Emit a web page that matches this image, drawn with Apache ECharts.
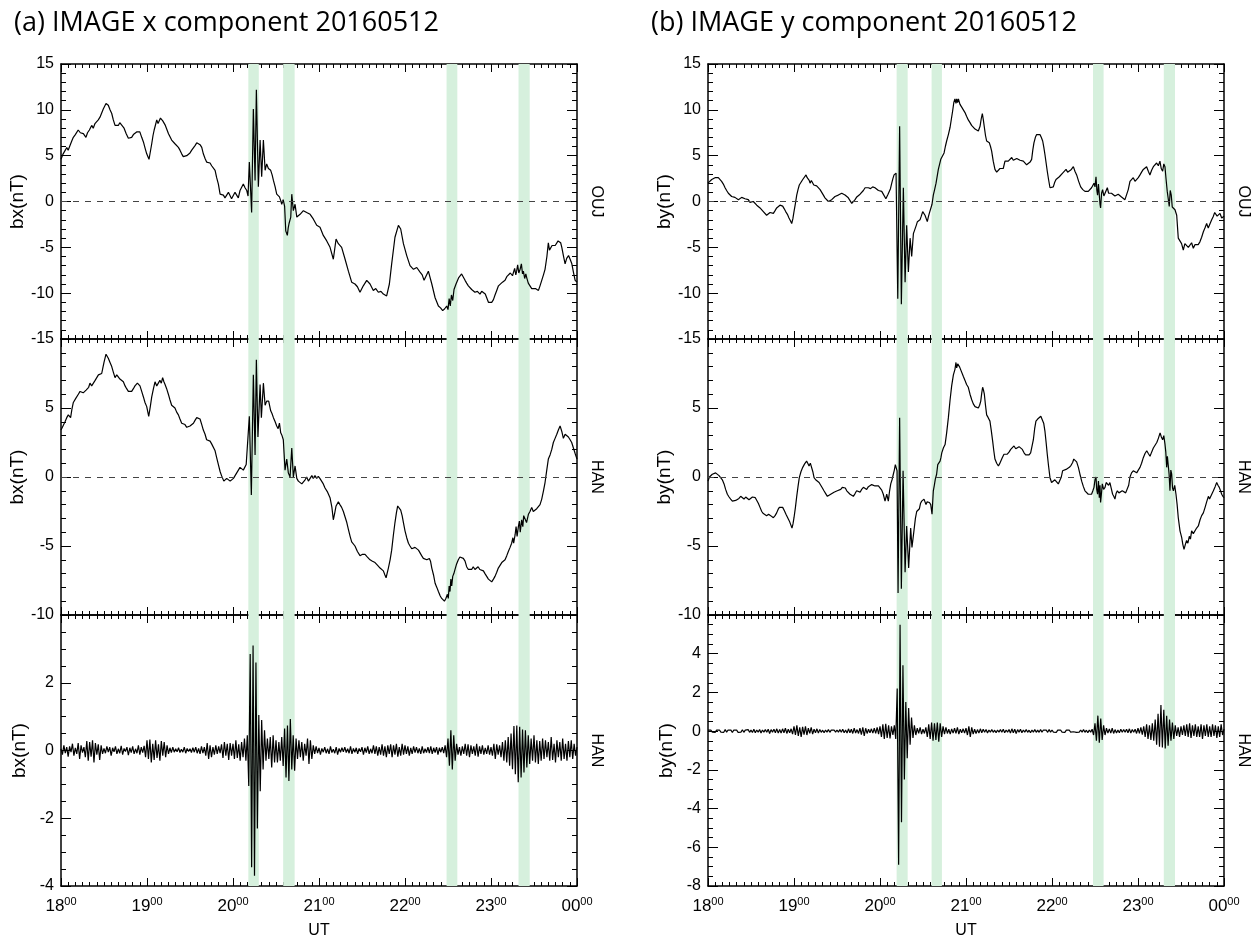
<!DOCTYPE html>
<html>
<head>
<meta charset="utf-8">
<script src="https://cdn.jsdelivr.net/npm/echarts@6/dist/echarts.min.js"></script>
<style>
  html, body { margin: 0; padding: 0; background: #fff; }
  #chart { width: 1255px; height: 940px; }
</style>
</head>
<body>
<div id="chart"></div>
<script>
// Minutes after 18:00 UT, magnetic field in nT.

// OUJ x component
const bxOUJ = [[0,4.6],[1.5,5.2],[3,5.6],[4,5.9],[5,5.6],[6.3,5.8],[7.5,6.6],[8.6,7.0],[10,7.3],[12,7.8],[13.5,7.5],[15.6,7.4],[17.4,7.0],[18.5,7.5],[19.8,7.8],[21.4,8.3],[22.5,8.0],[23.7,8.5],[25,8.3],[26,8.9],[27.2,9.2],[28.3,9.0],[29.5,10.1],[31.4,10.7],[33,10.5],[34.2,10.0],[35.4,9.6],[36.5,8.9],[37.7,8.3],[39,8.5],[40,8.3],[41,8.6],[42.3,8.5],[44,8.0],[45.5,7.4],[47,6.9],[48,7.1],[49.3,7.0],[50.5,7.3],[51.6,7.2],[53,7.6],[54,7.8],[55,7.6],[56.3,7.0],[57.5,6.5],[58.7,5.8],[59.8,5.2],[61.4,4.6],[62.3,5.4],[63.3,6.3],[64.2,7.2],[65,7.8],[66,8.4],[66.8,8.9],[67.7,8.5],[68.6,8.7],[69.4,9.1],[70.2,9.2],[71,8.8],[71.9,8.7],[72.8,8.3],[73.7,8.1],[75,7.4],[76,7.2],[77.2,6.7],[78.3,6.5],[79.5,6.3],[80.7,6.2],[81.9,5.9],[83,5.6],[84.2,5.2],[85.3,4.9],[86.5,4.7],[87.7,5.0],[88.9,4.9],[90,5.3],[91.2,5.6],[92.4,5.8],[93.5,6.1],[94.7,6.4],[95.8,6.5],[97,6.2],[98.2,5.9],[99.3,5.2],[100.5,4.7],[101.6,4.3],[102.8,4.1],[104,4.2],[105.1,3.9],[106.3,3.8],[107.5,3.4],[108.6,2.6],[109.8,1.9],[111,0.8],[112,0.9],[113.3,0.7],[114.4,0.4],[115.6,0.5],[116.8,1.0],[117.9,0.8],[119,0.3],[120.3,0.5],[121.4,1.0],[122.6,0.8],[123.7,0.4],[124.9,1.2],[126,1.0],[127.2,1.9],[128.4,1.5],[129.6,1.2],[130.5,0.6],[131.4,4.3],[133,-1.2],[134.2,10.1],[135.4,2.3],[136.3,12.2],[137.7,1.6],[138.9,6.7],[140,2.7],[141.2,6.7],[142.4,3.4],[143.5,4.1],[144.7,3.6],[146.3,3.4],[147.3,2.9],[148.2,2.3],[149.4,1.6],[150.5,0.8],[151.5,1.0],[152.4,0.5],[153.3,0.1],[154,-0.3],[155,0.2],[156,-0.5],[156.8,-3.2],[157.9,-3.7],[158.5,-2.9],[159.1,-2.4],[160.3,-1.7],[161,0.8],[162.1,-1.0],[163.3,-0.3],[164.5,-1.7],[165.5,-1.5],[166.8,-1.4],[168,-1.6],[169.1,-1.0],[170.3,-1.2],[171.4,-1.2],[172.6,-1.0],[173.8,-1.4],[175,-1.6],[176,-1.9],[177.2,-2.0],[178.4,-2.6],[180.7,-2.8],[183,-3.7],[185.4,-4.3],[187.7,-5.0],[190,-6.3],[191.9,-4.1],[193.5,-4.6],[195.8,-5.0],[198.2,-6.3],[200.5,-7.6],[202.8,-8.8],[205.1,-9.0],[206.8,-9.3],[208.6,-9.9],[210.9,-9.2],[213.3,-8.6],[215.6,-9.0],[217.9,-9.7],[219.6,-9.5],[221.4,-9.9],[223.2,-9.8],[224.9,-10.1],[227.2,-10.3],[229.1,-9.0],[230.7,-6.8],[233,-3.9],[235.4,-2.6],[237,-3.0],[238.9,-4.6],[241.2,-5.9],[243.5,-7.0],[245.9,-7.4],[248.2,-7.2],[250.5,-7.7],[252,-8.0],[253.3,-8.6],[254.8,-8.1],[256.3,-7.6],[258.7,-9.0],[261,-10.5],[263.3,-11.4],[264.8,-11.6],[266.3,-11.9],[267.7,-11.7],[269.1,-11.4],[270,-11.8],[270.8,-10.6],[271.6,-11.4],[272.4,-10.2],[273.3,-10.8],[274.2,-9.6],[275.6,-9.0],[277.5,-8.3],[279.5,-7.9],[281.9,-8.6],[283,-8.9],[284.2,-9.2],[285.4,-9.4],[286.5,-9.6],[287.6,-9.5],[288.8,-9.9],[290.5,-9.8],[292.3,-10.1],[293.5,-9.8],[294.7,-9.7],[296,-10.1],[297,-10.5],[298.2,-11.0],[299.3,-11.2],[300.5,-11.0],[301.7,-10.7],[302.8,-10.2],[304,-9.7],[305.2,-9.2],[306.3,-9.0],[308,-8.8],[309.8,-8.6],[311,-8.2],[312.1,-8.1],[313.5,-7.8],[315,-8.1],[315.6,-7.9],[316.5,-7.3],[317.3,-8.0],[317.9,-7.6],[318.6,-6.9],[319.4,-7.8],[320.3,-7.4],[321.2,-6.8],[322,-7.9],[322.6,-7.6],[323.5,-8.4],[324.3,-7.9],[324.9,-8.3],[326,-8.9],[327.2,-9.2],[328.4,-9.5],[329.6,-9.6],[331,-9.5],[333.1,-9.7],[334.2,-9.2],[335.4,-8.6],[336.6,-8.0],[337.7,-7.4],[339,-6.0],[340,-4.5],[340.8,-5.3],[341.7,-5.2],[342.6,-4.8],[343.6,-5.0],[344.8,-4.8],[345.9,-4.6],[346.8,-4.3],[347.8,-4.1],[348.6,-4.5],[349.4,-5.0],[350.5,-5.9],[351.7,-6.8],[352.8,-6.2],[354.1,-5.9],[355.2,-6.3],[356.4,-6.8],[357.5,-7.7],[358.7,-8.6],[360,-8.8]];

// HAN x component
const bxHAN = [[0,3.4],[1.4,3.7],[2.8,4.0],[4,4.3],[5.1,4.5],[6.7,4.3],[7.6,4.9],[8.6,5.4],[10.3,5.7],[12.1,6.0],[13.3,6.2],[14.4,6.3],[15.5,6.1],[16.7,6.0],[17.5,6.3],[18.4,6.2],[19.3,6.5],[20.2,6.8],[21.4,6.6],[22.6,6.8],[23.8,7.0],[24.9,7.1],[26.1,7.4],[27.2,7.3],[28.4,7.5],[29.2,7.9],[30,8.3],[31.4,8.9],[33,8.6],[34.2,8.3],[35.4,8.0],[36.5,7.6],[37.7,7.2],[38.9,7.4],[40,7.3],[41.1,7.1],[42.3,7.2],[43.5,6.9],[44.7,6.6],[45.8,6.4],[47,6.2],[48.2,6.3],[49.3,6.2],[50.5,6.4],[51.6,6.6],[52.4,6.5],[53.3,6.8],[54.2,6.7],[55.1,6.6],[56.3,6.2],[57.5,5.8],[58.6,5.4],[59.8,5.1],[61.2,4.4],[62.3,5.1],[63.3,5.8],[64.5,6.4],[65.6,6.9],[66.8,6.6],[67.9,6.8],[69,7.0],[70,6.8],[70.9,7.2],[71.8,6.9],[72.6,6.7],[73.7,6.4],[74.9,6.0],[76,5.6],[77.2,5.2],[78.3,5.2],[79.5,5.0],[80.7,4.7],[81.9,4.5],[83,4.2],[84.2,3.9],[85.3,3.9],[86.5,3.8],[87.7,3.6],[88.9,3.6],[90,3.7],[91.2,3.8],[92.4,3.9],[93.5,4.1],[94.7,4.3],[95.8,4.3],[97,4.2],[98.2,3.8],[99.3,3.4],[100.5,3.1],[101.6,2.7],[102.8,2.6],[104,2.6],[105.1,2.4],[106.3,2.3],[107.5,1.9],[108.6,1.4],[109.8,0.9],[111,0.4],[112,0.1],[112.8,0.0],[113.6,-0.3],[114.4,-0.2],[115.6,-0.1],[116.8,-0.1],[118,-0.3],[119.1,-0.3],[120.3,-0.1],[121.4,0.0],[122.6,0.3],[123.7,0.4],[124.9,0.7],[126.1,0.8],[127.2,0.5],[128.4,0.4],[129.2,0.9],[130,0.8],[131.4,4.4],[132.8,-1.3],[134.2,7.4],[135.4,1.6],[136.3,8.5],[137.4,2.9],[138.9,6.7],[139.8,4.3],[141.2,6.8],[142.4,5.2],[143.5,5.5],[144.9,5.5],[146.3,4.8],[147.2,4.6],[148.2,4.3],[149.4,4.0],[150.5,3.7],[151.5,3.5],[152.4,3.9],[153.3,3.2],[154.2,3.0],[155.1,2.7],[156.3,0.5],[157.5,1.3],[158.6,0.3],[159.8,0.0],[161,2.1],[162.1,0.0],[163.3,0.8],[164.5,-0.1],[165.6,-0.3],[166.8,-0.2],[168,-0.5],[169.1,-0.6],[170.3,-0.2],[171.4,0.0],[172.6,-0.3],[173.8,-0.2],[175,0.1],[176,-0.1],[177.2,0.1],[178.4,-0.1],[179.5,0.05],[180.6,-0.1],[181.8,-0.3],[183,-0.5],[184.2,-0.8],[186,-1.1],[187.7,-1.5],[189,-2.2],[190,-3.1],[191,-2.6],[191.9,-2.1],[193.5,-1.8],[194.6,-2.0],[195.8,-2.2],[197,-2.5],[198.2,-2.9],[199.4,-3.3],[200.5,-3.8],[201.7,-4.3],[202.8,-4.7],[204,-4.8],[205.1,-5.0],[206.8,-5.4],[208.6,-5.7],[210.4,-5.6],[212.1,-5.6],[213.8,-5.8],[215.6,-6.0],[217.3,-6.1],[219.1,-6.2],[220.9,-6.4],[222.6,-6.6],[223.8,-6.7],[224.9,-6.8],[226,-7.1],[226.8,-7.3],[228.4,-6.6],[229.6,-6.0],[230.7,-5.3],[231.9,-4.2],[233,-3.3],[234,-2.6],[234.9,-2.1],[236,-2.2],[237,-2.4],[238,-2.8],[238.9,-3.3],[240,-3.9],[241.2,-4.4],[242.4,-4.8],[243.5,-5.0],[244.7,-5.2],[245.9,-5.3],[247,-5.1],[248.2,-5.1],[249.4,-5.3],[250.5,-5.5],[251.6,-5.7],[252.8,-5.9],[254,-5.8],[255.2,-6.0],[256,-5.9],[257,-5.9],[257.8,-6.1],[258.7,-6.6],[259.9,-7.1],[261,-7.7],[262.2,-8.0],[263.3,-8.3],[264.5,-8.6],[265.6,-8.8],[266.5,-8.9],[267.5,-9.0],[268.5,-8.8],[269.6,-8.5],[270.2,-8.8],[270.8,-7.9],[271.4,-8.3],[272,-7.4],[272.6,-7.9],[273.3,-7.2],[274.1,-7.0],[274.9,-6.7],[276,-6.3],[277.2,-6.0],[278.3,-5.8],[279.5,-5.7],[280.7,-5.9],[281.9,-6.1],[283,-6.5],[284.2,-6.7],[285.3,-6.6],[286.5,-6.7],[287.6,-6.5],[288.8,-6.7],[290,-6.6],[291,-6.5],[292.2,-6.7],[293.5,-6.6],[294.7,-6.8],[295.8,-7.0],[297,-7.2],[298.2,-7.4],[299.3,-7.5],[300.5,-7.6],[301.7,-7.4],[302.8,-7.2],[304,-6.9],[305.1,-6.6],[306.3,-6.4],[307.5,-6.2],[308.6,-6.2],[309.8,-6.0],[311,-5.7],[312.1,-5.4],[313.3,-5.1],[314.4,-4.8],[315.3,-4.4],[315.8,-4.8],[316.8,-4.2],[317.5,-3.6],[318.2,-4.3],[319.1,-3.6],[319.8,-3.2],[320.4,-4.0],[321.4,-3.1],[322.2,-3.6],[322.8,-2.8],[323.8,-2.9],[324.8,-3.3],[326.1,-2.7],[327.2,-2.5],[328.4,-2.2],[329.5,-2.5],[330.7,-2.5],[331.9,-2.3],[333.1,-2.4],[334.2,-2.0],[335.4,-1.6],[336.6,-1.0],[337.7,-0.4],[338.9,0.5],[340,1.3],[341.2,1.6],[342.4,2.0],[343.5,2.5],[344.7,2.8],[345.9,3.1],[347,3.4],[348.2,3.7],[349.4,3.3],[350.5,2.8],[351.7,3.1],[352.8,3.2],[354,2.9],[355.2,2.7],[356.3,2.5],[357.5,2.1],[358.7,1.7],[360,1.3]];

// HAN x component, band-pass filtered, one sample per minute
const bxHANfilt = [
  0.05,-0.12,0.15,-0.08,0.1,-0.18,0.12,-0.05,0.2,-0.15,
  0.08,-0.1,0.22,-0.25,0.15,-0.06,0.1,-0.2,0.28,-0.3,
  0.25,-0.18,0.3,-0.35,0.22,-0.12,0.18,-0.28,0.15,-0.1,
  0.06,-0.08,0.12,-0.05,0.1,-0.15,0.08,-0.04,0.12,-0.1,
  0.05,-0.08,0.14,-0.12,0.06,-0.03,0.1,-0.14,0.08,-0.06,
  0.12,-0.1,0.05,-0.08,0.15,-0.12,0.1,-0.06,0.14,-0.2,
  0.3,-0.25,0.32,-0.35,0.2,-0.28,0.3,-0.22,0.18,-0.3,
  0.28,-0.15,0.25,-0.2,0.15,-0.1,0.08,-0.06,0.1,-0.05,
  0.05,-0.04,0.08,-0.06,0.04,-0.05,0.1,-0.08,0.06,-0.03,
  0.05,-0.06,0.08,-0.05,0.1,-0.08,0.06,-0.1,0.12,-0.08,
  0.1,-0.15,0.22,-0.25,0.15,-0.2,0.1,-0.12,0.15,-0.1,
  0.12,-0.08,0.18,-0.22,0.25,-0.15,0.2,-0.28,0.22,-0.15,
  0.2,-0.25,0.3,-0.22,0.18,-0.3,0.25,-0.2,0.35,-0.3,
  0.45,-1.05,2.85,-3.45,3.1,-3.7,2.6,-2.3,1.05,-1.2,
  0.9,-0.56,0.6,-0.3,0.35,-0.25,0.4,-0.5,0.45,-0.35,
  0.3,-0.35,0.25,-0.3,0.4,-0.46,0.65,-0.8,0.74,-0.9,
  0.93,-0.56,0.45,-0.6,0.35,-0.25,0.3,-0.2,0.25,-0.3,
  0.2,-0.15,0.35,-0.4,0.3,-0.25,0.15,-0.1,0.12,-0.08,
  0.08,-0.12,0.06,-0.05,0.1,-0.08,0.05,-0.1,0.12,-0.06,
  0.04,-0.08,0.1,-0.12,0.06,-0.05,0.08,-0.04,0.1,-0.06,
  0.05,-0.08,0.12,-0.1,0.06,-0.05,0.08,-0.1,0.06,-0.04,
  0.1,-0.12,0.08,-0.06,0.12,-0.1,0.05,-0.08,0.15,-0.1,
  0.12,-0.15,0.1,-0.12,0.18,-0.15,0.12,-0.2,0.15,-0.1,
  0.18,-0.2,0.15,-0.12,0.2,-0.18,0.1,-0.15,0.2,-0.12,
  0.15,-0.1,0.12,-0.15,0.08,-0.1,0.12,-0.06,0.1,-0.08,
  0.06,-0.1,0.12,-0.08,0.05,-0.06,0.1,-0.08,0.12,-0.1,
  0.08,-0.06,0.1,-0.12,0.08,-0.05,0.1,-0.08,0.15,-0.2,
  0.35,-0.45,0.6,-0.56,0.45,-0.3,0.2,-0.12,0.1,-0.15,
  0.12,-0.1,0.2,-0.15,0.18,-0.2,0.15,-0.1,0.12,-0.15,
  0.2,-0.18,0.12,-0.1,0.15,-0.12,0.08,-0.1,0.15,-0.12,
  0.1,-0.15,0.2,-0.25,0.18,-0.12,0.15,-0.2,0.25,-0.3,
  0.3,-0.35,0.4,-0.45,0.5,-0.55,0.72,-0.7,0.74,-0.94,
  0.7,-0.8,0.62,-0.65,0.6,-0.5,0.45,-0.4,0.35,-0.3,
  0.45,-0.35,0.3,-0.4,0.28,-0.3,0.35,-0.25,0.3,-0.2,
  0.25,-0.3,0.4,-0.28,0.2,-0.35,0.3,-0.2,0.25,-0.3,
  0.35,-0.25,0.2,-0.3,0.28,-0.2,0.3,-0.25,0.2,-0.15,
  0.1
];

// OUJ y component
const byOUJ = [[0,2.0],[1.3,2.2],[2.6,2.4],[3.8,2.5],[4.9,2.6],[6,2.5],[7.2,2.6],[8.4,2.4],[9.5,2.2],[10.7,1.9],[11.9,1.5],[13,1.2],[14.2,0.9],[15.3,0.7],[16.5,0.55],[17.7,0.4],[18.8,0.45],[20,0.3],[21.2,0.2],[22.3,0.35],[23.5,0.45],[24.7,0.55],[25.8,0.3],[27,0.1],[28.1,0.2],[29.3,-0.1],[30.5,0.05],[31.6,0.0],[32.8,-0.2],[34,-0.4],[35.1,-0.5],[36.3,-0.7],[37.4,-0.8],[38.6,-1.1],[39.8,-1.3],[40.9,-1.5],[42.1,-1.3],[43.3,-1.2],[44.4,-1.4],[45.6,-1.3],[46.8,-1.0],[47.9,-0.7],[49,-0.5],[50.2,-0.4],[51.2,-0.3],[52.1,-0.5],[53.2,-0.8],[54.2,-1.1],[55.4,-1.4],[56.5,-1.8],[57.5,-2.1],[58.4,-2.4],[59.2,-1.9],[60,-1.1],[61,-0.2],[61.9,0.7],[62.8,1.3],[63.7,1.8],[64.9,2.1],[66.1,2.4],[67.2,2.6],[68.4,2.9],[69.2,2.6],[70,2.7],[70.6,2.3],[71.2,2.0],[72.1,2.3],[73,2.2],[73.8,1.8],[74.7,1.6],[75.8,1.7],[77,1.5],[78.2,1.3],[79.3,1.1],[80.5,0.7],[81.6,0.4],[82.8,0.2],[84,0.0],[85.1,0.1],[86.3,0.2],[87.5,0.4],[88.6,0.55],[89.8,0.5],[90.9,0.7],[92.1,0.8],[93.3,0.9],[94.4,0.8],[95.6,0.7],[96.8,0.55],[97.9,0.4],[99.1,0.1],[100.3,-0.2],[101.4,0.0],[102.6,0.2],[103.8,0.5],[104.9,0.7],[106.1,0.8],[107.2,0.9],[108.4,1.2],[109.6,1.5],[110.7,1.3],[111.9,1.5],[113.4,1.4],[114.9,1.6],[116.5,1.5],[117.7,1.3],[118.9,1.2],[120,1.0],[121.2,1.1],[122.3,0.8],[123.5,0.7],[124.1,0.3],[124.7,0.2],[125.6,0.8],[126.5,0.9],[127.3,1.4],[128.2,2.0],[129,2.5],[129.8,2.9],[130.5,2.7],[131.2,3.1],[132.4,-10.6],[133.7,8.2],[134.9,-11.2],[136.3,1.5],[137.5,-8.8],[138.6,-2.6],[139.8,-7.7],[141,-4.0],[142.1,-6.0],[143.3,-3.5],[144.4,-3.3],[145.3,-2.6],[146.1,-2.2],[147,-2.3],[147.9,-2.0],[148.8,-1.6],[149.8,-1.1],[150.6,-1.3],[151.4,-1.5],[152.2,-1.4],[153,-2.2],[153.7,-1.7],[154.4,-1.3],[155.4,-1.5],[156.3,-0.3],[157.2,0.7],[158.1,1.3],[159.1,2.0],[159.9,1.8],[160.7,3.5],[161.6,3.3],[162.4,4.6],[163.5,4.7],[164.7,5.3],[165.6,6.0],[166.5,6.6],[167.7,7.3],[168.9,8.1],[169.8,9.0],[170.7,9.9],[171.5,10.8],[172.3,11.2],[173,10.7],[173.5,11.2],[174.1,10.8],[174.7,11.2],[175.8,10.6],[177,10.3],[178.1,10.1],[179.3,9.7],[180.4,9.3],[181.6,8.9],[182.8,8.6],[183.9,8.3],[185.1,8.1],[186.3,7.9],[187.4,7.8],[188.6,7.7],[189.8,8.2],[190.6,9.0],[191.4,9.6],[192.1,8.9],[192.8,8.1],[193.6,7.2],[194.4,6.6],[195.3,6.7],[196.3,6.4],[197.1,6.0],[197.9,5.5],[199,4.4],[200.2,3.5],[201.4,3.2],[202.6,3.1],[203.7,3.6],[204.9,3.8],[206,3.6],[207.2,4.4],[208.4,4.2],[209.5,4.4],[210.7,4.5],[211.9,4.8],[213,4.5],[214.2,4.4],[215.4,4.7],[216.5,4.8],[217.7,4.5],[218.8,4.6],[220,4.4],[221.2,4.2],[222.3,4.0],[223.5,4.0],[224.7,4.3],[225.8,4.6],[226.6,5.6],[227.4,6.4],[228.4,7.0],[229.3,7.3],[230.5,7.2],[231.6,7.3],[232.5,7.0],[233.5,6.6],[234.3,5.9],[235.1,5.1],[235.9,4.2],[236.7,3.3],[237.6,2.4],[238.6,1.5],[239.7,1.4],[240.9,1.6],[241.9,2.1],[242.8,2.4],[244,2.2],[245.1,2.7],[246.3,2.6],[247.4,3.1],[248.6,2.9],[249.8,3.5],[250.9,3.2],[252.1,3.3],[253.5,3.5],[254.9,3.8],[256,3.3],[257.2,2.9],[258.6,2.2],[260,1.6],[261.5,1.3],[263,1.1],[264.2,1.2],[265.3,1.1],[266.5,1.3],[267.6,1.5],[268.5,1.7],[269.3,2.0],[270,1.6],[270.7,2.7],[271.3,1.2],[271.8,0.7],[272.4,1.9],[273,1.8],[273.5,-0.3],[273.9,-0.7],[274.6,0.9],[275.3,1.3],[276.2,0.6],[277,0.7],[277.8,1.2],[278.6,1.5],[279.5,0.9],[280.4,0.7],[281.5,0.9],[282.7,1.1],[283.9,0.6],[285.1,0.4],[286.2,0.8],[287.4,0.7],[288.5,0.5],[289.7,0.55],[290.9,0.2],[292.1,0.4],[293.2,1.3],[294.4,2.2],[295.6,2.3],[296.7,2.6],[297.9,2.2],[299,2.4],[300.2,2.6],[301.4,2.9],[302.5,3.2],[303.7,3.5],[304.9,3.6],[306,3.8],[307.2,3.3],[308.3,2.9],[309.5,3.4],[310.7,3.8],[311.8,3.6],[313,4.2],[314.2,3.9],[315.3,4.4],[316.2,3.6],[317.2,3.3],[318,4.1],[318.8,3.8],[319.6,2.4],[320.4,1.1],[321.1,0.3],[321.8,-0.55],[322.5,1.2],[323.2,0.7],[323.9,-0.6],[324.6,-0.4],[325.8,-0.9],[327,-1.5],[328.1,-4.0],[329.3,-4.2],[330.4,-4.6],[331.6,-5.3],[332.7,-4.6],[333.9,-4.6],[335.1,-5.0],[336.3,-4.9],[337.4,-4.5],[338.6,-5.1],[339.8,-4.7],[340.9,-4.8],[342,-4.7],[343.2,-4.4],[344.4,-3.9],[345.6,-3.3],[346.7,-2.9],[347.9,-2.4],[349,-2.9],[350.2,-2.7],[351.4,-2.0],[352.6,-1.6],[353.5,-1.2],[354.4,-1.1],[355.2,-1.6],[356,-1.5],[357.2,-1.3],[358.4,-1.8],[360,-1.6]];

// HAN y component
const byHAN = [[0,-0.3],[1,0.0],[1.9,0.1],[3,0.2],[4.2,0.25],[5.3,0.3],[6.5,0.25],[7.7,0.1],[8.8,-0.05],[10,-0.2],[11.2,-0.5],[12.3,-0.9],[13.5,-1.25],[14.7,-1.45],[15.8,-1.6],[17,-1.75],[18.1,-1.85],[19.3,-1.7],[20.5,-1.75],[21.6,-1.55],[22.8,-1.4],[24,-1.5],[25.1,-1.6],[26.3,-1.45],[27.4,-1.5],[28.6,-1.65],[29.8,-1.6],[31,-1.45],[32.1,-1.4],[33,-1.5],[34,-1.6],[35.1,-1.9],[36.3,-2.2],[37.5,-2.5],[38.6,-2.65],[39.8,-2.75],[40.9,-2.8],[42.3,-2.7],[43.7,-2.8],[44.7,-2.85],[45.6,-2.95],[46.8,-2.8],[47.9,-2.6],[48.9,-2.35],[49.8,-2.2],[51,-2.25],[52.1,-2.2],[53.3,-2.45],[54.4,-2.7],[55.6,-2.95],[56.8,-3.2],[57.7,-3.45],[58.6,-3.7],[59.3,-3.4],[60,-2.95],[61,-2.2],[61.9,-1.4],[62.8,-0.7],[63.7,-0.05],[64.9,0.4],[66.1,0.7],[67.4,0.95],[68.8,1.15],[69.6,1.0],[70.5,0.8],[71.4,1.0],[72.3,0.9],[73.1,0.4],[74,-0.05],[75.1,-0.2],[76.3,-0.3],[77.5,-0.4],[78.6,-0.5],[79.8,-0.8],[80.9,-1.0],[82.1,-1.2],[83.3,-1.4],[84.4,-1.35],[85.6,-1.25],[86.7,-1.2],[87.9,-1.1],[89.1,-1.05],[90.2,-1.0],[91.4,-0.95],[92.6,-0.9],[93.7,-0.75],[94.9,-0.65],[95.8,-0.8],[96.8,-1.0],[97.9,-1.1],[99.1,-1.25],[100.3,-1.3],[101.4,-1.4],[102.6,-1.2],[103.7,-1.0],[104.9,-1.05],[106.1,-1.1],[107.2,-0.9],[108.4,-0.75],[109.6,-0.85],[110.7,-0.9],[111.9,-0.7],[113,-0.65],[114.2,-0.55],[115.4,-0.5],[116.5,-0.65],[117.7,-0.75],[118.9,-0.65],[120,-0.75],[121.2,-0.95],[122.3,-1.25],[123.5,-1.75],[124.7,-1.25],[125.8,-1.75],[126.7,-1.0],[127.5,-0.5],[128.4,-0.2],[129.3,0.2],[130,0.5],[130.7,0.9],[131.9,0.45],[132.6,-8.4],[133.7,4.3],[134.9,-8.1],[136.1,0.45],[137.5,-6.9],[138.6,-3.55],[140,-6.6],[141.4,-3.7],[142.3,-5.1],[143.8,-3.8],[144.7,-3.0],[145.6,-2.5],[146.5,-2.4],[147.5,-2.3],[148.3,-1.9],[149.1,-1.75],[149.9,-1.7],[150.7,-1.6],[151.4,-1.8],[152.1,-2.0],[152.9,-1.8],[153.7,-1.75],[154.5,-1.85],[155.4,-2.0],[156.3,-2.7],[157.2,-1.0],[157.9,-0.6],[158.6,-0.15],[159.5,0.2],[160.3,0.9],[161.1,0.8],[161.9,1.15],[162.5,1.4],[163.1,1.75],[164.2,2.1],[165.4,2.35],[166.5,3.2],[167.7,4.3],[168.9,5.6],[170,6.6],[171.2,7.4],[172.3,7.8],[173,8.3],[173.5,7.9],[174.2,8.2],[175.4,8.0],[176.2,7.8],[177,7.7],[178.1,7.3],[179.3,7.0],[180.4,6.7],[181.6,6.5],[182.8,6.0],[184,5.6],[185.1,5.3],[186.3,5.1],[187.4,5.0],[188.6,5.0],[189.5,5.2],[190.3,5.5],[191,6.1],[191.6,6.5],[192.2,6.3],[192.8,6.0],[193.6,5.2],[194.4,4.5],[195.5,4.3],[196.7,4.05],[197.6,3.4],[198.6,2.6],[199.4,1.9],[200.2,1.3],[201.4,1.0],[202.6,0.8],[203.4,0.95],[204.2,1.05],[205.3,1.4],[206.5,1.65],[207.7,1.55],[208.8,1.65],[210,1.8],[211.2,2.0],[212.3,2.1],[213.5,2.25],[214.7,2.05],[215.8,2.0],[217,2.2],[218.1,2.25],[219.3,2.0],[220.5,1.75],[221.6,1.6],[222.8,1.5],[224,1.6],[225.1,1.75],[226,2.2],[227,2.7],[227.9,3.5],[228.8,4.05],[230,4.2],[231.2,4.3],[232.2,4.4],[233.3,4.4],[234.2,3.9],[235.1,3.3],[235.9,2.5],[236.7,1.65],[237.6,0.8],[238.6,-0.05],[239.7,-0.4],[240.9,-0.5],[242,-0.2],[243.2,-0.3],[244.4,-0.5],[245.6,-0.4],[246.5,0.0],[247.4,0.45],[248.6,0.4],[249.8,0.55],[250.9,0.5],[252.1,0.7],[253.3,0.85],[254.4,1.05],[255.2,1.3],[256,1.4],[257.2,1.1],[258.4,0.7],[259.5,0.2],[260.7,-0.3],[261.9,-0.7],[263,-1.0],[264.2,-1.1],[265.3,-1.25],[266.5,-1.2],[267.6,-1.25],[268.5,-1.0],[269.3,-0.75],[270,-0.2],[270.7,0.0],[271.2,-0.9],[271.8,-1.25],[272.4,-0.3],[273,-1.5],[273.5,-0.6],[273.9,-1.85],[274.5,-1.2],[275.1,-0.5],[276,-0.9],[277,-0.75],[277.8,-0.4],[278.6,-0.3],[279.5,-0.6],[280.4,-0.4],[281.3,-0.8],[282.3,-1.25],[283.1,-1.4],[283.9,-1.6],[284.7,-1.2],[285.6,-1.0],[286.7,-1.15],[287.9,-1.1],[289,-1.0],[290.2,-1.05],[291.4,-1.15],[292.6,-1.1],[293.5,-0.6],[294.4,0.0],[295.5,0.3],[296.7,0.45],[297.9,0.4],[299.1,0.3],[300.2,0.5],[301.4,0.7],[302.5,1.0],[303.7,1.4],[304.9,1.7],[306.1,1.9],[307.2,1.7],[308.4,1.5],[309.5,1.8],[310.7,2.1],[311.9,2.3],[313.1,2.5],[314.2,2.8],[315.4,3.2],[316.3,2.9],[317.2,2.7],[318,3.0],[318.8,2.4],[319.4,1.8],[320,0.7],[320.5,1.5],[321.1,1.4],[321.7,0.2],[322.3,-1.0],[322.9,0.5],[323.5,0.2],[324.1,-0.8],[324.7,-1.0],[325.6,-0.6],[326.5,-1.25],[327.3,-2.0],[328.1,-2.95],[329.3,-3.9],[330.5,-4.4],[331.3,-4.9],[332.1,-5.25],[333,-4.9],[333.9,-4.6],[334.8,-4.8],[335.8,-4.3],[336.6,-4.5],[337.4,-3.9],[338.6,-4.1],[339.8,-4.0],[340.9,-3.7],[342.1,-3.55],[343.3,-3.1],[344.4,-2.8],[345.6,-2.6],[346.8,-2.2],[347.9,-1.8],[349.1,-1.4],[349.9,-1.6],[350.7,-1.5],[351.7,-1.2],[352.6,-1.0],[353.8,-0.7],[354.9,-0.4],[355.8,-0.6],[356.7,-0.75],[357.6,-1.0],[358.4,-1.25],[359.2,-1.4],[360,-1.5]];

// HAN y component, band-pass filtered, one sample per minute
const byHANfilt = [
  0.05,-0.04,0.06,-0.05,0.03,-0.06,0.05,-0.03,0.06,-0.05,
  0.04,-0.06,0.08,-0.05,0.06,-0.04,0.05,-0.07,0.06,-0.04,
  0.05,-0.06,0.04,-0.05,0.07,-0.06,0.05,-0.04,0.08,-0.06,
  0.05,-0.07,0.1,-0.08,0.06,-0.05,0.08,-0.1,0.06,-0.05,
  0.08,-0.06,0.1,-0.12,0.08,-0.05,0.1,-0.08,0.12,-0.1,
  0.08,-0.1,0.12,-0.08,0.15,-0.12,0.1,-0.08,0.12,-0.15,
  0.25,-0.2,0.3,-0.25,0.2,-0.3,0.22,-0.18,0.25,-0.2,
  0.15,-0.12,0.2,-0.15,0.1,-0.08,0.12,-0.1,0.08,-0.06,
  0.05,-0.08,0.06,-0.05,0.08,-0.06,0.05,-0.04,0.06,-0.05,
  0.06,-0.05,0.08,-0.06,0.1,-0.08,0.06,-0.1,0.12,-0.08,
  0.1,-0.12,0.15,-0.1,0.08,-0.12,0.15,-0.18,0.2,-0.25,
  0.15,-0.12,0.1,-0.08,0.12,-0.1,0.15,-0.12,0.2,-0.15,
  0.25,-0.3,0.35,-0.4,0.38,-0.35,0.3,-0.38,0.25,-0.2,
  0.3,-0.4,2.2,-6.9,5.5,-4.7,3.4,-2.5,1.5,-1.4,
  1.2,-0.7,0.7,-0.35,0.3,-0.2,0.15,-0.12,0.2,-0.15,
  0.1,-0.12,0.2,-0.3,0.35,-0.4,0.45,-0.5,0.4,-0.45,
  0.45,-0.55,0.4,-0.3,0.25,-0.15,0.2,-0.12,0.1,-0.15,
  0.12,-0.1,0.15,-0.12,0.2,-0.15,0.1,-0.08,0.12,-0.1,
  0.15,-0.2,0.25,-0.3,0.2,-0.15,0.1,-0.12,0.08,-0.1,
  0.12,-0.08,0.1,-0.06,0.08,-0.1,0.06,-0.05,0.08,-0.06,
  0.05,-0.08,0.06,-0.05,0.08,-0.06,0.1,-0.08,0.06,-0.05,
  0.08,-0.1,0.12,-0.08,0.1,-0.12,0.08,-0.06,0.1,-0.08,
  0.06,-0.05,0.08,-0.06,0.05,-0.08,0.06,-0.05,0.08,-0.06,
  0.05,-0.06,0.08,-0.05,0.06,-0.04,0.05,-0.06,0.08,-0.05,
  0.06,-0.05,0.04,-0.06,0.05,-0.04,0.06,-0.05,0.04,-0.06,
  0.05,-0.04,0.06,-0.05,0.04,-0.03,0.05,-0.06,0.04,-0.05,
  0.06,-0.05,0.08,-0.06,0.05,-0.08,0.06,-0.05,0.1,-0.2,
  0.4,-0.5,0.8,-0.6,0.65,-0.45,0.3,-0.2,0.15,-0.1,
  0.12,-0.1,0.15,-0.12,0.08,-0.1,0.06,-0.08,0.1,-0.06,
  0.08,-0.06,0.1,-0.08,0.12,-0.1,0.08,-0.06,0.1,-0.12,
  0.15,-0.12,0.2,-0.18,0.25,-0.3,0.35,-0.4,0.3,-0.45,
  0.4,-0.5,0.6,-0.7,0.9,-0.8,1.35,-0.85,1.1,-0.9,
  0.8,-0.75,0.6,-0.5,0.45,-0.4,0.3,-0.25,0.2,-0.3,
  0.25,-0.2,0.3,-0.25,0.35,-0.3,0.4,-0.35,0.3,-0.25,
  0.35,-0.3,0.25,-0.3,0.35,-0.4,0.3,-0.25,0.35,-0.3,
  0.25,-0.3,0.35,-0.25,0.3,-0.35,0.25,-0.3,0.35,-0.2,
  0.1
];

// Highlighted Pc intervals (start, end in minutes after 18:00)
const bandsX = [[130.7, 138.0], [155.0, 163.0], [269.0, 276.5], [319.2, 327.0]];
const bandsY = [[131.6, 139.3], [156.0, 163.2], [268.6, 276.0], [318.0, 325.8]];

const titles = ['(a) IMAGE x component 20160512', '(b) IMAGE y component 20160512'];
const hourLabels = ['18', '19', '20', '21', '22', '23', '00'];

const FONT = '"Liberation Sans", Arial, sans-serif';
const colLeft = [61, 708];
const colWidth = 516;
const rowTop = [64, 339, 615];
const rowHeight = [275, 276, 277];

const perMinute = arr => arr.map((v, i) => [i, v]);

const panels = [
  { col: 0, row: 0, data: bxOUJ, unit: 'bx(nT)', station: 'OUJ', min: -15, max: 15, step: 5, minor: 5, zero: true, bands: bandsX },
  { col: 0, row: 1, data: bxHAN, unit: 'bx(nT)', station: 'HAN', min: -10, max: 10, step: 5, minor: 5, zero: true, bands: bandsX },
  { col: 0, row: 2, data: perMinute(bxHANfilt), unit: 'bx(nT)', station: 'HAN', min: -4, max: 4, step: 2, minor: 4, zero: false, bands: bandsX },
  { col: 1, row: 0, data: byOUJ, unit: 'by(nT)', station: 'OUJ', min: -15, max: 15, step: 5, minor: 5, zero: true, bands: bandsY },
  { col: 1, row: 1, data: byHAN, unit: 'by(nT)', station: 'HAN', min: -10, max: 10, step: 5, minor: 5, zero: true, bands: bandsY },
  { col: 1, row: 2, data: perMinute(byHANfilt), unit: 'by(nT)', station: 'HAN', min: -8, max: 6, step: 2, minor: 4, zero: false, bands: bandsY }
];

const axisLine = { show: true, onZero: false, lineStyle: { color: '#000', width: 1.5 } };

const grid = [], xAxis = [], yAxis = [], series = [];

panels.forEach((p, i) => {
  grid.push({ left: colLeft[p.col], width: colWidth, top: rowTop[p.row], height: rowHeight[p.row] });
  const bottomRow = p.row === 2;

  // bottom time axis
  xAxis.push({
    type: 'value', gridIndex: i, position: 'bottom', min: 0, max: 360, interval: 60,
    axisLine,
    axisTick: { show: true, inside: true, length: 8, lineStyle: { color: '#000', width: 1 } },
    minorTick: { show: true, splitNumber: 12, length: 4, lineStyle: { color: '#000', width: 1 } },
    splitLine: { show: false },
    axisLabel: bottomRow ? {
      show: true, margin: 10, color: '#000', fontFamily: FONT,
      formatter: v => '{h|' + hourLabels[Math.round(v / 60)] + '}{s|00}',
      rich: {
        h: { fontSize: 17, fontFamily: FONT, color: '#000', lineHeight: 20 },
        s: { fontSize: 11, fontFamily: FONT, color: '#000', verticalAlign: 'top', lineHeight: 20, padding: [0, 0, 8, 0] }
      }
    } : { show: false },
    name: bottomRow ? 'UT' : '',
    nameLocation: 'middle', nameGap: 37,
    nameTextStyle: { fontFamily: FONT, fontSize: 16, color: '#000' }
  });
  // top time axis (ticks only)
  xAxis.push({
    type: 'value', gridIndex: i, position: 'top', min: 0, max: 360, interval: 60,
    axisLine,
    axisTick: { show: true, inside: true, length: 8, lineStyle: { color: '#000', width: 1 } },
    minorTick: { show: true, splitNumber: 12, length: 4, lineStyle: { color: '#000', width: 1 } },
    splitLine: { show: false }, axisLabel: { show: false }
  });
  // left field axis
  yAxis.push({
    type: 'value', gridIndex: i, position: 'left', min: p.min, max: p.max, interval: p.step,
    axisLine,
    axisTick: { show: true, inside: true, length: 10, lineStyle: { color: '#000', width: 1 } },
    minorTick: { show: true, splitNumber: p.minor, length: 5, lineStyle: { color: '#000', width: 1 } },
    splitLine: { show: false },
    axisLabel: { show: true, margin: 7, color: '#000', fontFamily: FONT, fontSize: 16, showMaxLabel: p.row === 0 },
    name: p.unit, nameLocation: 'middle', nameGap: 32,
    nameTextStyle: { fontFamily: FONT, fontSize: 19, color: '#000' }
  });
  // right axis with station code
  yAxis.push({
    type: 'value', gridIndex: i, position: 'right', min: p.min, max: p.max, interval: p.step,
    axisLine,
    axisTick: { show: true, inside: true, length: 10, lineStyle: { color: '#000', width: 1 } },
    minorTick: { show: true, splitNumber: p.minor, length: 5, lineStyle: { color: '#000', width: 1 } },
    splitLine: { show: false }, axisLabel: { show: false },
    name: p.station, nameLocation: 'middle', nameGap: 11, nameRotate: -90,
    nameTextStyle: { fontFamily: FONT, fontSize: 16, color: '#000' }
  });

  const s = {
    type: 'line', xAxisIndex: 2 * i, yAxisIndex: 2 * i, data: p.data,
    showSymbol: false, symbol: 'none', animation: false, silent: true,
    lineStyle: { color: '#000', width: 1.2 },
    markArea: {
      silent: true,
      itemStyle: { color: 'rgb(214,240,221)' },
      data: p.bands.map(b => [{ xAxis: b[0] }, { xAxis: b[1] }])
    },
    z: 3
  };
  if (p.zero) {
    s.markLine = {
      silent: true, symbol: 'none', label: { show: false },
      lineStyle: { color: '#444', type: [6, 6], width: 1 },
      data: [{ yAxis: 0 }]
    };
  }
  series.push(s);
});

const chart = echarts.init(document.getElementById('chart'), null, { renderer: 'canvas' });
chart.setOption({
  animation: false,
  backgroundColor: '#fff',
  title: titles.map((t, k) => ({
    text: t, left: k === 0 ? 9 : 646, top: 5,
    textStyle: { fontFamily: '"Open Sans", sans-serif', fontSize: 27, fontWeight: 'normal', color: '#000' }
  })),
  grid, xAxis, yAxis, series
});
</script>
</body>
</html>
